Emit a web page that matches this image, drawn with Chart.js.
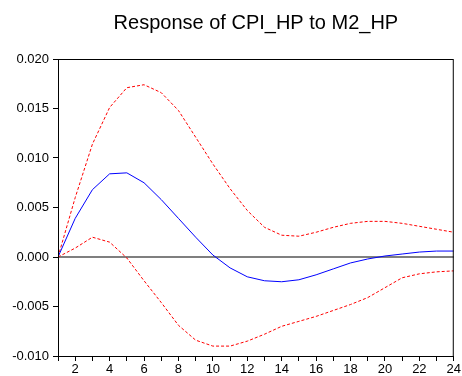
<!DOCTYPE html>
<html>
<head>
<meta charset="utf-8">
<script src="https://cdn.jsdelivr.net/npm/chart.js@4/dist/chart.umd.min.js"></script>
<style>
  html, body { margin: 0; padding: 0; background: #fff; }
  #wrap { width: 462px; height: 376px; position: relative; }
</style>
</head>
<body>
<div id="wrap"><canvas id="c" width="462" height="376"></canvas></div>
<script>
const title = "Response of CPI_HP to M2_HP";
const periods = [1,2,3,4,5,6,7,8,9,10,11,12,13,14,15,16,17,18,19,20,21,22,23,24];
const response = [0, 0.0039, 0.0068, 0.0084, 0.0085, 0.0075, 0.0058, 0.0039, 0.0020, 0.0002, -0.0011, -0.0020, -0.0024, -0.0025, -0.0023, -0.0018, -0.0012, -0.0006, -0.0002, 0.0001, 0.0003, 0.0005, 0.0006, 0.0006];
const upperBand = [0, 0.0060, 0.0114, 0.0151, 0.0171, 0.0174, 0.0166, 0.0148, 0.0121, 0.0094, 0.0069, 0.0047, 0.0030, 0.0022, 0.0021, 0.0025, 0.0030, 0.0034, 0.0036, 0.0036, 0.0034, 0.0031, 0.0028, 0.0025];
const lowerBand = [0, 0.0009, 0.0020, 0.0015, -0.0001, -0.0024, -0.0046, -0.0069, -0.0084, -0.0090, -0.0090, -0.0085, -0.0078, -0.0070, -0.0065, -0.0060, -0.0054, -0.0048, -0.0041, -0.0031, -0.0021, -0.0017, -0.0015, -0.0014];
const yMin = -0.010, yMax = 0.020, yStep = 0.005;

const toXY = arr => arr.map((v, i) => ({x: periods[i], y: v}));

const framePlugin = {
  id: 'frame',
  beforeDatasetsDraw(chart) {
    const {ctx, chartArea: a, scales} = chart;
    const y0 = scales.y.getPixelForValue(0);
    ctx.save();
    ctx.strokeStyle = '#555';
    ctx.lineWidth = 1.5;
    ctx.beginPath();
    ctx.moveTo(a.left, y0);
    ctx.lineTo(a.right, y0);
    ctx.stroke();
    ctx.restore();
  },
  afterDraw(chart) {
    const {ctx, chartArea: a} = chart;
    ctx.save();
    ctx.strokeStyle = '#000';
    ctx.lineWidth = 1;
    ctx.strokeRect(a.left + 0.5, a.top + 0.5, a.right - a.left - 1, a.bottom - a.top);
    ctx.fillStyle = '#000';
    ctx.font = '20px "Liberation Sans", Arial, sans-serif';
    ctx.textAlign = 'center';
    ctx.textBaseline = 'alphabetic';
    ctx.fillText(title, (a.left + a.right) / 2, 29);
    ctx.restore();
  }
};

const font = {family: '"Liberation Sans", Arial, sans-serif', size: 13};

new Chart(document.getElementById('c'), {
  type: 'line',
  data: {
    datasets: [
      {data: toXY(response), borderColor: '#0000ff', borderWidth: 1, pointRadius: 0, tension: 0, fill: false},
      {data: toXY(upperBand), borderColor: '#ff0000', borderWidth: 1, borderDash: [3, 2], pointRadius: 0, tension: 0, fill: false},
      {data: toXY(lowerBand), borderColor: '#ff0000', borderWidth: 1, borderDash: [3, 2], pointRadius: 0, tension: 0, fill: false}
    ]
  },
  options: {
    responsive: false,
    animation: false,
    layout: {padding: {left: 0, right: 8, top: 59, bottom: 0}},
    plugins: {legend: {display: false}, title: {display: false}, tooltip: {enabled: false}},
    scales: {
      x: {
        type: 'linear',
        min: 1, max: 24,
        afterFit(s) { s.height = 20; },
        afterBuildTicks(s) { s.ticks = periods.map(p => ({value: p})); },
        ticks: {
          autoSkip: false, maxRotation: 0, color: '#000', font, padding: 1,
          callback: v => (v % 2 === 0 ? String(v) : '')
        },
        grid: {drawOnChartArea: false, drawTicks: true, tickLength: 5, color: '#000', tickColor: '#000'},
        border: {display: true, color: '#000', width: 1}
      },
      y: {
        min: yMin, max: yMax,
        afterFit(s) { s.width = 58; },
        ticks: {stepSize: yStep, color: '#000', font, padding: 4, callback: v => Number(v).toFixed(3)},
        grid: {drawOnChartArea: false, drawTicks: true, tickLength: 5, color: '#000', tickColor: '#000'},
        border: {display: true, color: '#000', width: 1}
      }
    }
  },
  plugins: [framePlugin]
});
</script>
</body>
</html>
